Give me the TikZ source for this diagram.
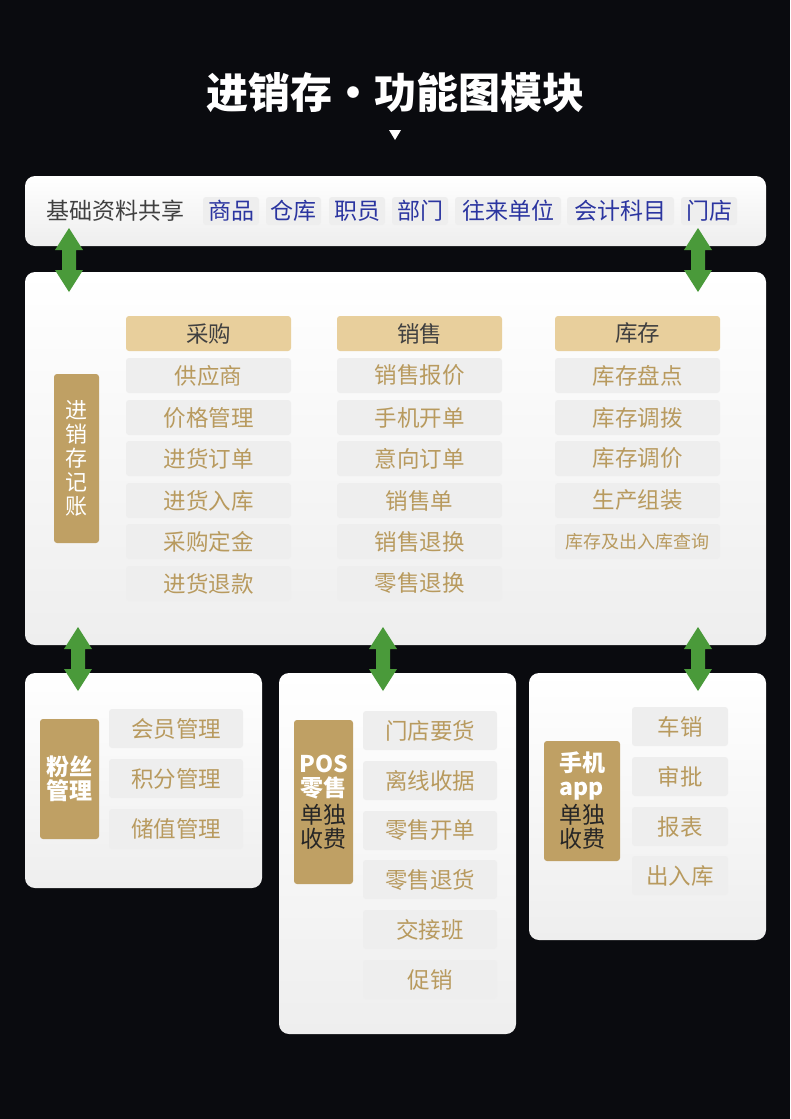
\documentclass[tikz,border=0pt]{standalone}
\usepackage{fontspec}
\setmainfont{Noto Sans CJK SC}
\begin{document}
\definecolor{bg}{HTML}{0A0B0F}
\definecolor{itemc}{HTML}{EEEEEE}
\definecolor{goldt}{HTML}{B89A5E}
\definecolor{headc}{HTML}{E8CF9C}
\definecolor{labc}{HTML}{BFA064}
\definecolor{bluet}{HTML}{2B35A0}
\definecolor{greenc}{HTML}{4A9A3A}
\begin{tikzpicture}[x=1pt,y=-1pt,
 panel/.style={rounded corners=10pt,top color=white,bottom color=itemc,draw=none},
 item/.style={fill=itemc,rounded corners=3pt,text=goldt,font=\fontsize{22.5}{24}\selectfont,inner sep=0pt},
 head/.style={fill=headc,rounded corners=3pt,text=black!75,font=\fontsize{22.5}{24}\selectfont,inner sep=0pt},
 tag/.style={fill=itemc,rounded corners=3pt,text=bluet,font=\fontsize{23}{24}\selectfont,inner sep=0pt},
 lab/.style={fill=labc,rounded corners=3pt,inner sep=0pt,align=center,font=\fontsize{23}{24}\selectfont\bfseries}]
\newcommand\bx[7]{\node[#6,minimum width={(#4-#2)*1pt},minimum height={(#5-#3)*1pt}] (#1) at ({(#2+#4)/2},{(#3+#5)/2}) {#7};}
\newcommand\pn[5]{\path[panel] (#2,#3) rectangle (#4,#5) coordinate (#1);}
\newcommand\arr[3]{\fill[greenc] (#1,#2) -- (#1+14,#2+22) -- (#1+7,#2+22) -- (#1+7,#3-22) -- (#1+14,#3-22) -- (#1,#3) -- (#1-14,#3-22) -- (#1-7,#3-22) -- (#1-7,#2+22) -- (#1-14,#2+22) -- cycle;}
\newcommand\wt[1]{\textcolor{white}{#1}}
\newcommand\dk[1]{\textcolor{black!85}{\mdseries #1}}
\fill[bg] (0,0) rectangle (790,1119);
\node[text=white,font=\fontsize{42}{46}\selectfont\bfseries] (title) at (395,93) {进销存·功能图模块};
\fill[white] (389,130) -- (401,130) -- (395,140) -- cycle;
% top panel
\pn{tp}{25}{176}{766}{246}
\node[anchor=west,text=black!75,font=\fontsize{23}{24}\selectfont] (share) at (43,211) {基础资料共享};
\bx{t1}{203}{197}{259}{225}{tag}{商品}
\bx{t2}{266}{197}{321}{225}{tag}{仓库}
\bx{t3}{329}{197}{385}{225}{tag}{职员}
\bx{t4}{392}{197}{448}{225}{tag}{部门}
\bx{t5}{455}{197}{561}{225}{tag}{往来单位}
\bx{t6}{567}{197}{674}{225}{tag}{会计科目}
\bx{t7}{681}{197}{737}{225}{tag}{门店}
% main panel
\pn{mp}{25}{272}{766}{645}
\arr{69}{228}{292}
\arr{698}{228}{292}
\bx{ml}{54}{374}{99}{543}{lab,text=white,font=\fontsize{22}{24}\selectfont}{进\\销\\存\\记\\账}
\bx{h1}{126}{316}{291}{351}{head}{采购}
\bx{h2}{337}{316}{502}{351}{head}{销售}
\bx{h3}{555}{316}{720}{351}{head}{库存}
\bx{a1}{126}{358}{291}{393}{item}{供应商}
\bx{a2}{126}{400}{291}{435}{item}{价格管理}
\bx{a3}{126}{441}{291}{476}{item}{进货订单}
\bx{a4}{126}{483}{291}{518}{item}{进货入库}
\bx{a5}{126}{524}{291}{559}{item}{采购定金}
\bx{a6}{126}{566}{291}{601}{item}{进货退款}
\bx{b1}{337}{358}{502}{393}{item}{销售报价}
\bx{b2}{337}{400}{502}{435}{item}{手机开单}
\bx{b3}{337}{441}{502}{476}{item}{意向订单}
\bx{b4}{337}{483}{502}{518}{item}{销售单}
\bx{b5}{337}{524}{502}{559}{item}{销售退换}
\bx{b6}{337}{566}{502}{601}{item}{零售退换}
\bx{c1}{555}{358}{720}{393}{item}{库存盘点}
\bx{c2}{555}{400}{720}{435}{item}{库存调拨}
\bx{c3}{555}{441}{720}{476}{item}{库存调价}
\bx{c4}{555}{483}{720}{518}{item}{生产组装}
\bx{c5}{555}{524}{720}{559}{item,font=\fontsize{18}{20}\selectfont}{库存及出入库查询}
% bottom panels
\pn{p1}{25}{673}{262}{888}
\pn{p2}{279}{673}{516}{1034}
\pn{p3}{529}{673}{766}{940}
\arr{78}{627}{691}
\arr{383}{627}{691}
\arr{698}{627}{691}
\bx{l1}{40}{719}{99}{839}{lab,text=white}{粉丝\\管理}
\bx{d1}{109}{709}{243}{748}{item}{会员管理}
\bx{d2}{109}{759}{243}{798}{item}{积分管理}
\bx{d3}{109}{809}{243}{849}{item}{储值管理}
\bx{l2}{294}{720}{353}{884}{lab}{\wt{POS}\\\wt{零售}\\[3pt]\dk{单独}\\\dk{收费}}
\bx{e1}{363}{711}{497}{750}{item}{门店要货}
\bx{e2}{363}{761}{497}{800}{item}{离线收据}
\bx{e3}{363}{811}{497}{850}{item}{零售开单}
\bx{e4}{363}{860}{497}{899}{item}{零售退货}
\bx{e5}{363}{910}{497}{949}{item}{交接班}
\bx{e6}{363}{960}{497}{999}{item}{促销}
\bx{l3}{544}{741}{620}{861}{lab}{\wt{手机}\\\wt{app}\\[3pt]\dk{单独}\\\dk{收费}}
\bx{f1}{632}{707}{728}{746}{item}{车销}
\bx{f2}{632}{757}{728}{796}{item}{审批}
\bx{f3}{632}{807}{728}{846}{item}{报表}
\bx{f4}{632}{856}{728}{895}{item}{出入库}
\end{tikzpicture}
\end{document}
